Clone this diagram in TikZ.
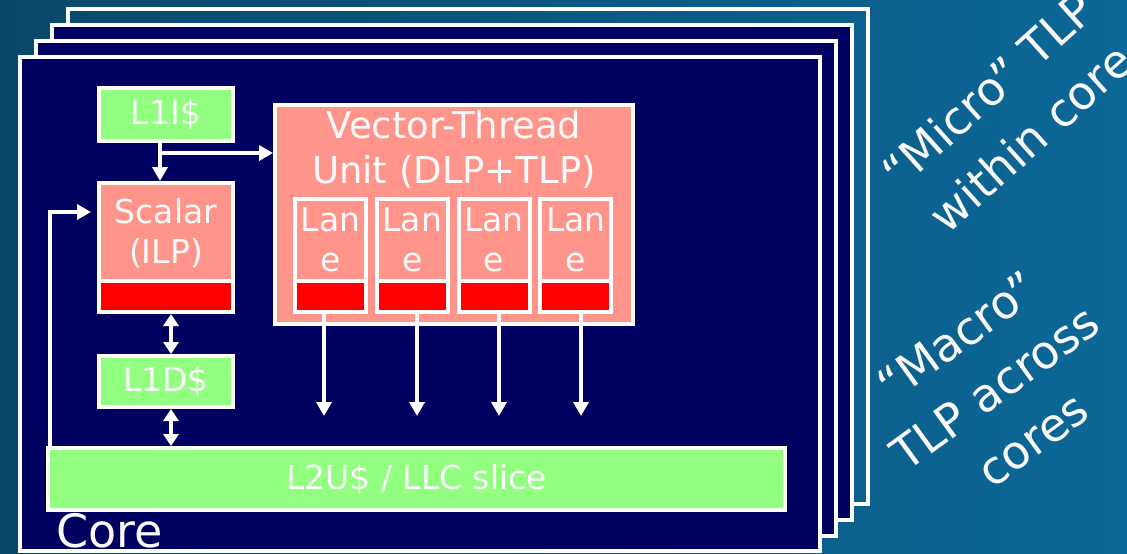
\documentclass[tikz,border=0pt]{standalone}
\usepackage{fontspec}
\setmainfont{DejaVu Sans}
\usetikzlibrary{arrows.meta}
\definecolor{navy}{RGB}{0,0,96}
\definecolor{lgreen}{RGB}{146,255,128}
\definecolor{salmon}{RGB}{255,148,138}
\definecolor{bgL}{RGB}{10,72,106}
\definecolor{bgR}{RGB}{12,104,152}
\definecolor{txt}{RGB}{250,250,250}
\tikzset{
  box/.style={draw=white, line width=4pt, inner sep=0pt, text=txt, align=center,
    font=\fontsize{33}{40}\selectfont},
  gbox/.style={box, fill=lgreen},
  sbox/.style={box, fill=salmon},
  rbox/.style={box, fill=red},
  corerect/.style={draw=white, line width=4pt},
  conn/.style={draw=white, line width=4pt, -{Triangle[width=15pt,length=14pt]}},
  dconn/.style={draw=white, line width=4pt,
    {Triangle[width=15pt,length=12pt]}-{Triangle[width=15pt,length=12pt]}},
  side/.style={text=txt, align=center, inner sep=0pt, font=\fontsize{46}{64}\selectfont}
}
\begin{document}
\begin{tikzpicture}[x=1pt,y=-1pt]
\useasboundingbox (0,0) rectangle (1127,554);
\shade[left color=bgL, right color=bgR] (0,0) rectangle (1127,554);
% stacked cores
\draw[corerect] (68,9) rectangle (868,504);
\draw[corerect, fill=navy] (52,25) rectangle (852,520);
\draw[corerect, fill=navy] (36,41) rectangle (836,536);
\draw[corerect, fill=navy] (20,57) rectangle (820,551);
% blocks
\node[gbox, minimum width=134pt, minimum height=53pt] (l1i) at (166,114.5) {L1I\$};
\node[sbox, minimum width=134pt, minimum height=100pt] (scalar) at (166,233) {Scalar\\(ILP)};
\node[rbox, minimum width=134pt, minimum height=31pt] (sred) at (166,296.5) {};
\node[gbox, minimum width=134pt, minimum height=51pt] (l1d) at (166,381.5) {L1D\$};
\node[gbox, minimum width=737pt, minimum height=62pt] (l2) at (416.5,479) {L2U\$ / LLC slice};
\node[sbox, minimum width=358pt, minimum height=219pt] (vtu) at (454,214.5) {};
\node[text=txt, align=center, inner sep=0pt, font=\fontsize{37}{45}\selectfont] (vtut) at (454,149) {Vector-Thread\\Unit (DLP+TLP)};
\foreach \i/\x/\ax in {1/330.5/324, 2/412.3/417, 3/494.1/499, 4/575.9/581}{
  \node[sbox, minimum width=71pt, minimum height=82pt] (lane\i) at (\x,240) {Lan\\e};
  \node[rbox, minimum width=71pt, minimum height=31pt] (lred\i) at (\x,296.5) {};
  \coordinate (a\i) at (\ax,416);
  \draw[conn] (lred\i.south -| a\i) -- (a\i);
}
\node[anchor=base west, inner sep=0pt, text=txt, font=\fontsize{46}{50}\selectfont] (core) at (56,547) {Core};
% connectors
\coordinate (br) at (160,153);
\draw[conn] ([xshift=-6pt]l1i.south) -- ([xshift=-6pt]scalar.north);
\draw[conn] (br) -- (br -| vtu.west);
\coordinate (fbx) at (50,212);
\draw[conn] (l2.north -| fbx) |- ([xshift=-6pt]scalar.west |- fbx);
\draw[dconn] ([xshift=5pt]sred.south) -- ([xshift=5pt]l1d.north);
\draw[dconn] ([xshift=5pt]l1d.south) -- ([xshift=5pt]l1d.south |- l2.north);
% side labels
\node[side, rotate=42] (micro) at (1009,114) {“Micro” TLP\\within core};
\node[side, rotate=36] (macro) at (995,388) {“Macro”\\TLP across\\cores};
\end{tikzpicture}
\end{document}
